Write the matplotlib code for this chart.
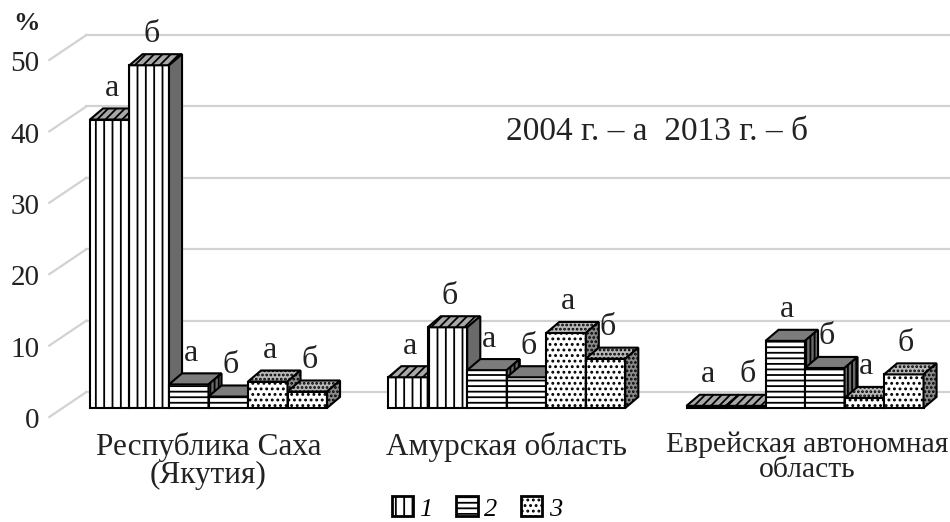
import matplotlib
matplotlib.use('Agg')
import matplotlib.pyplot as plt
from matplotlib.patches import Polygon, Patch

plt.rcParams['font.family'] = ['Liberation Serif', 'DejaVu Serif']
plt.rcParams['hatch.linewidth'] = 1.3

# data (percent), a = 2004, b = 2013
regions = ['Республика Саха\n(Якутия)', 'Амурская область',
           'Еврейская автономная\nобласть']
s1_2004 = [40.4, 4.3, 0.3]
s1_2013 = [48.0, 11.3, 0.3]
s2_2004 = [3.3, 5.3, 9.4]
s2_2013 = [1.6, 4.3, 5.6]
s3_2004 = [3.7, 10.5, 1.4]
s3_2013 = [2.3, 6.9, 4.7]
series_names = ['1', '2', '3']
year_marks = ['а', 'б']
yticks = [0, 10, 20, 30, 40, 50]

# pseudo-3d geometry (x in bar widths, y in percent)
GROUP_STEP = 7.55
BAR_DX, BAR_DY = 0.33, 1.55
FRONT_DX, FRONT_DY = -0.33, -1.26
BACK_DX, BACK_DY = 0.61, 2.24
WALL_X = -0.7
XMAX = 21.77

front_hatch = ['||', '---', '...']
top_style = [('#a8a8a8', '////'), ('#7c7c7c', ''), ('#b8b8b8', '....')]
side_style = [('#6a6a6a', ''), ('#6a6a6a', '||||'), ('#8a8a8a', '....')]
label_size = [22.5, 22.5, 21.3]

fig = plt.figure(figsize=(9.5, 5.22), dpi=100)
ax = fig.add_axes([0, 0, 1, 1])
ax.set_xlim(-2.278, XMAX)
ax.set_ylim(-15.97, 57.14)
ax.axis('off')

# back wall grid + left wall diagonals
for v in yticks:
    ax.plot([WALL_X + BACK_DX, XMAX], [v + BACK_DY] * 2, color='#d2d2d2',
            lw=1.6, zorder=0)
    ax.plot([WALL_X + FRONT_DX, WALL_X + BACK_DX],
            [v + FRONT_DY, v + BACK_DY], color='#d2d2d2', lw=1.6, zorder=0)
    ax.text(WALL_X + FRONT_DX - 0.25, v + FRONT_DY - 0.6, str(v), ha='right',
            va='center', fontsize=21, color='#222222')
ax.text(-1.95, 53.8, '%', fontsize=19, fontweight='bold', ha='left',
        va='center', color='#222222')

values = [s1_2004, s1_2013, s2_2004, s2_2013, s3_2004, s3_2013]
z = 2
for g, region in enumerate(regions):
    for i, vals in enumerate(values):
        s = i // 2
        h = vals[g]
        x0 = g * GROUP_STEP + i
        bars = ax.bar(x0, h, width=1.0, align='edge', color='white',
                      edgecolor='black', hatch=front_hatch[s], lw=1.5,
                      zorder=z)
        b = bars[0]
        xl, xr, yt = b.get_x(), b.get_x() + b.get_width(), b.get_height()
        top = Polygon([(xl, yt), (xr, yt), (xr + BAR_DX, yt + BAR_DY),
                       (xl + BAR_DX, yt + BAR_DY)], closed=True,
                      facecolor=top_style[s][0], hatch=top_style[s][1],
                      edgecolor='black', lw=1.5, zorder=z)
        side = Polygon([(xr, 0), (xr + BAR_DX, BAR_DY),
                        (xr + BAR_DX, yt + BAR_DY), (xr, yt)], closed=True,
                       facecolor=side_style[s][0], hatch=side_style[s][1],
                       edgecolor='black', lw=1.5, zorder=z)
        ax.add_patch(top)
        ax.add_patch(side)
        z += 1
        ax.text(x0 + 0.55, yt + 3.3, year_marks[i % 2], ha='center',
                va='baseline', fontsize=23, color='#222222', zorder=100)
    ax.text(g * GROUP_STEP + 3.0 + (0.05 if g == 2 else 0), -3.3, region,
            ha='center', va='top', fontsize=label_size[g], linespacing=0.95,
            color='#222222')

ax.text(14.35, 37.5, '2004 г. – а  2013 г. – б', ha='center',
        va='baseline', fontsize=24, color='#222222')

handles = [Patch(facecolor='white', edgecolor='black', hatch=h, lw=2)
           for h in front_hatch]
fig.legend(handles, series_names, loc='center', ncol=3,
           bbox_to_anchor=(0.502, 0.026), frameon=False, handlelength=0.8,
           handleheight=0.8, handletextpad=0.25, columnspacing=0.9,
           borderpad=0.1, prop={'style': 'italic', 'size': 19})

fig.savefig('out.png', dpi=100)
